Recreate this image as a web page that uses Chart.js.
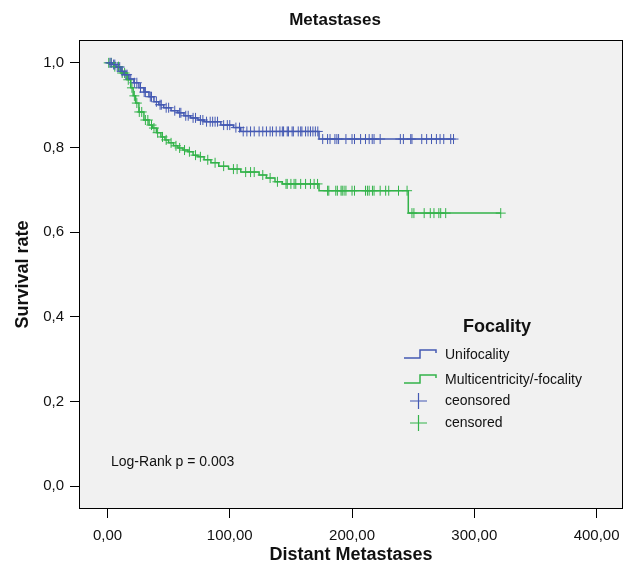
<!DOCTYPE html>
<html>
<head>
<meta charset="utf-8">
<script src="https://cdn.jsdelivr.net/npm/chart.js@4"></script>
<style>
  body { margin: 0; background: #fff; }
  #wrap { width: 630px; height: 566px; }
</style>
</head>
<body>
<div id="wrap"><canvas id="kmChart" width="630" height="566"></canvas></div>
<script>
// Kaplan-Meier steps (time, survival after event)
const uniTimes = [0, 4, 7, 11, 13.5, 17.6, 21.6, 25.7, 29.8, 33.9, 38, 42, 46, 52, 57.6, 62.5, 68, 74, 79, 92.7, 103, 109, 173];
const uniSurv = [1.0, 0.996, 0.99, 0.98, 0.972, 0.962, 0.953, 0.941, 0.931, 0.92, 0.908, 0.901, 0.894, 0.887, 0.882, 0.875, 0.87, 0.865, 0.861, 0.853, 0.847, 0.838, 0.82];
const uniEnd = 283;
const uniCensored = [2, 3, 5, 6, 8, 10, 12, 15, 16, 19, 22, 24, 27, 30, 31, 35, 36, 40, 43, 44, 48, 50, 55, 59, 60, 64, 66, 70, 72, 76, 78, 81, 84, 86, 88, 90, 95, 98, 100, 105, 108,
  111, 114, 117, 120, 124, 127, 130, 133, 135, 138, 141, 143, 144, 147, 148, 151, 152, 156, 158, 159, 162, 164, 166, 168, 170, 172,
  176, 180, 182, 186, 187.6, 189, 195, 200, 202, 207, 211, 214, 216.5, 218, 223, 239.5, 242, 248, 249, 257, 261, 265, 269, 272, 275, 280.7, 283];

const multiTimes = [0, 5.3, 11, 16, 19, 21, 23, 25.7, 29.8, 34, 37, 40, 43.7, 47, 50, 54, 57.6, 61.7, 65.8, 70, 74, 79, 84.6, 91, 99, 109, 124, 130, 137, 143, 173, 246];
const multiSurv = [1.0, 0.991, 0.976, 0.96, 0.941, 0.922, 0.905, 0.884, 0.865, 0.853, 0.846, 0.835, 0.825, 0.818, 0.811, 0.804, 0.799, 0.794, 0.79, 0.782, 0.778, 0.771, 0.764, 0.756, 0.749, 0.742, 0.735, 0.728, 0.719, 0.714, 0.698, 0.645];
const multiEnd = 321.6;
const multiCensored = [1, 3, 6, 9, 12, 14, 17, 20, 22, 24, 26, 28, 31, 33, 36, 38, 41, 45, 48, 52, 56, 59, 63, 67, 72, 76, 82, 88, 95, 103, 106, 113, 117, 120, 127, 133, 139,
  146, 147, 150, 152.6, 154, 158, 162, 166, 169, 171.8,
  180, 181, 186.7, 188, 191, 192, 193.5, 195, 200, 202, 211, 212.6, 214, 216.7, 218, 223, 227.5, 230, 238, 245,
  249, 250.6, 259, 264, 267, 271, 272.5, 276.6, 321.6];

const xTicks = [0, 100, 200, 300, 400];
const yTicks = [0, 0.2, 0.4, 0.6, 0.8, 1.0];

const BLUE = '#4459b3';
const GREEN = '#33b34a';
const FONT = '"Liberation Sans", Arial, Helvetica, sans-serif';

function stepPoints(times, surv, end) {
  const pts = times.map((t, i) => ({ x: t, y: surv[i] }));
  pts.push({ x: end, y: surv[surv.length - 1] });
  return pts;
}

function censorPoints(cens, times, surv) {
  return cens.map(t => {
    let s = surv[0];
    for (let i = 0; i < times.length; i++) {
      if (times[i] <= t) s = surv[i];
    }
    return { x: t, y: s };
  });
}

function fmt(v, digits) {
  return v.toFixed(digits).replace('.', ',');
}

const framePlugin = {
  id: 'frame',
  beforeDraw(chart) {
    const { ctx, chartArea: a } = chart;
    ctx.save();
    ctx.fillStyle = '#f1f1f1';
    ctx.fillRect(a.left, a.top, a.right - a.left, a.bottom - a.top);
    ctx.restore();
  },
  afterDraw(chart) {
    const { ctx, chartArea: a } = chart;
    ctx.save();
    ctx.strokeStyle = '#000';
    ctx.lineWidth = 1;
    ctx.strokeRect(a.left + 0.5, a.top + 0.5, a.right - a.left - 1, a.bottom - a.top - 1);

    // title
    ctx.fillStyle = '#111';
    ctx.textAlign = 'center';
    ctx.textBaseline = 'middle';
    ctx.font = 'bold 17px ' + FONT;
    ctx.fillText('Metastases', 335, 20);

    // log-rank note
    ctx.textAlign = 'left';
    ctx.font = '14px ' + FONT;
    ctx.fillText('Log-Rank p = 0.003', 111, 462);

    // legend
    ctx.textAlign = 'center';
    ctx.font = 'bold 18px ' + FONT;
    ctx.fillText('Focality', 497, 327);

    ctx.lineWidth = 1.5;
    [[BLUE, 354], [GREEN, 379]].forEach(([c, y]) => {
      ctx.strokeStyle = c;
      ctx.beginPath();
      ctx.moveTo(404, y + 4);
      ctx.lineTo(420, y + 4);
      ctx.lineTo(420, y - 4);
      ctx.lineTo(436, y - 4);
      ctx.lineTo(436, y - 1);
      ctx.stroke();
    });
    ctx.lineWidth = 1.2;
    [[BLUE, 401], [GREEN, 423]].forEach(([c, y]) => {
      ctx.strokeStyle = c;
      ctx.beginPath();
      ctx.moveTo(410, y);
      ctx.lineTo(427, y);
      ctx.moveTo(418.5, y - 8);
      ctx.lineTo(418.5, y + 8);
      ctx.stroke();
    });

    ctx.fillStyle = '#111';
    ctx.textAlign = 'left';
    ctx.font = '14px ' + FONT;
    ctx.fillText('Unifocality', 445, 355);
    ctx.fillText('Multicentricity/-focality', 445, 380);
    ctx.fillText('ceonsored', 445, 401);
    ctx.fillText('censored', 445, 423);
    ctx.restore();
  }
};

const ctx = document.getElementById('kmChart').getContext('2d');

new Chart(ctx, {
  type: 'scatter',
  data: {
    datasets: [
      {
        label: 'Unifocality',
        data: stepPoints(uniTimes, uniSurv, uniEnd),
        showLine: true,
        stepped: 'before',
        borderColor: BLUE,
        borderWidth: 1.5,
        pointRadius: 0
      },
      {
        label: 'Multicentricity/-focality',
        data: stepPoints(multiTimes, multiSurv, multiEnd),
        showLine: true,
        stepped: 'before',
        borderColor: GREEN,
        borderWidth: 1.5,
        pointRadius: 0
      },
      {
        label: 'ceonsored',
        data: censorPoints(uniCensored, uniTimes, uniSurv),
        showLine: false,
        pointStyle: 'cross',
        pointRadius: 5,
        borderColor: BLUE,
        borderWidth: 1
      },
      {
        label: 'censored',
        data: censorPoints(multiCensored, multiTimes, multiSurv),
        showLine: false,
        pointStyle: 'cross',
        pointRadius: 5,
        borderColor: GREEN,
        borderWidth: 1
      }
    ]
  },
  options: {
    responsive: false,
    animation: false,
    layout: { padding: { top: 40, right: 7, left: 0, bottom: 0 } },
    plugins: {
      legend: { display: false },
      tooltip: { enabled: false },
      title: { display: false }
    },
    scales: {
      x: {
        type: 'linear',
        min: -23.3,
        max: 421.6,
        afterBuildTicks: s => { s.ticks = xTicks.map(v => ({ value: v })); },
        afterFit: s => { s.height = 57; },
        grid: { drawOnChartArea: false, drawTicks: true, tickLength: 9, color: '#000' },
        border: { display: false },
        ticks: {
          color: '#111',
          font: { family: FONT, size: 15 },
          padding: 9,
          maxRotation: 0,
          callback: v => fmt(v, 2)
        },
        title: {
          display: true,
          text: 'Distant Metastases',
          color: '#111',
          font: { family: FONT, size: 18, weight: 'bold' },
          padding: { top: 0, bottom: 0 }
        }
      },
      y: {
        type: 'linear',
        min: -0.054,
        max: 1.054,
        afterBuildTicks: s => { s.ticks = yTicks.map(v => ({ value: v })); },
        afterFit: s => { s.width = 79; },
        grid: { drawOnChartArea: false, drawTicks: true, tickLength: 9, color: '#000' },
        border: { display: false },
        ticks: {
          color: '#111',
          font: { family: FONT, size: 15 },
          padding: 6,
          callback: v => fmt(v, 1)
        },
        title: {
          display: true,
          text: 'Survival rate',
          color: '#111',
          font: { family: FONT, size: 18, weight: 'bold' },
          padding: { top: 12, bottom: 0 }
        }
      }
    }
  },
  plugins: [framePlugin]
});
</script>
</body>
</html>
